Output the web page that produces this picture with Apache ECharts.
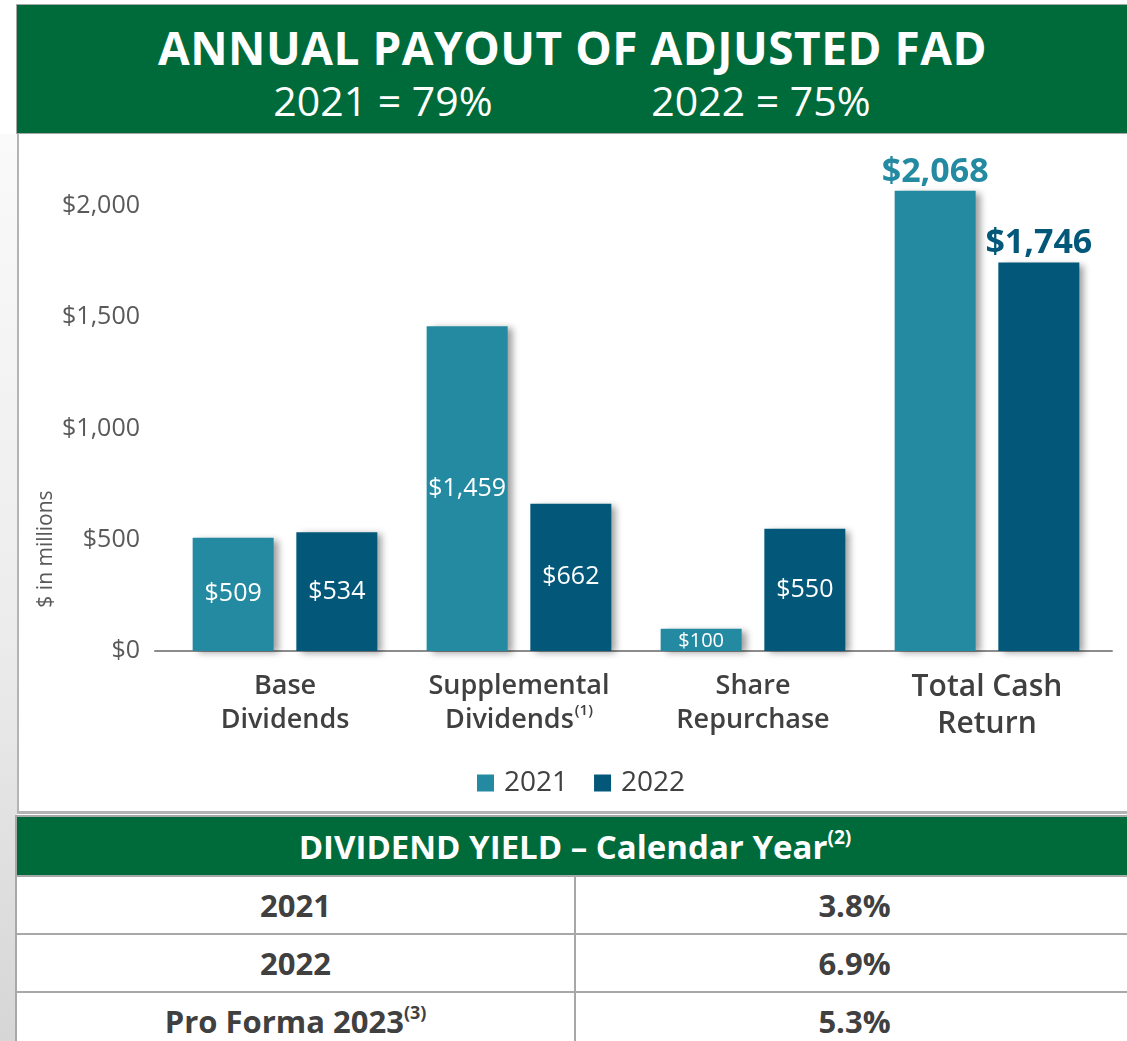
<!DOCTYPE html>
<html>
<head>
<meta charset="utf-8">
<script src="https://cdn.jsdelivr.net/npm/echarts@6/dist/echarts.min.js"></script>
<style>
  html, body { margin: 0; padding: 0; background: #ffffff; }
  body { width: 1127px; height: 1041px; position: relative; overflow: hidden; font-family: "Open Sans", "Noto Sans", sans-serif; }
  #strip { position: absolute; left: 0; top: 134px; width: 17px; height: 907px;
           background: linear-gradient(to bottom, #fafafa 0%, #ececec 55%, #d6d6d6 100%); }
  #panel { position: absolute; left: 17px; top: 133px; width: 1120px; height: 678px;
           background: #fff; border-left: 2px solid #b4b4b4; border-bottom: 3px solid #b4b4b4; }
  #header { position: absolute; left: 16px; top: 4px; width: 1120px; height: 128px;
            background: #006b3a; border: 1px solid #a8a8a8; color: #fff; z-index: 3; }
  #title { position: absolute; left: 0; right: 9px; top: 13px; text-align: center;
           font-size: 46px; font-weight: 700; line-height: 58px; letter-spacing: 0.5px; }
  .ratio { position: absolute; top: 69px; font-size: 41px; font-weight: 400; line-height: 52px; white-space: nowrap; transform: translateX(-50%); }
  #chart { position: absolute; left: 0; top: 0; width: 1127px; height: 1041px; z-index: 2; }
  #yieldTable { position: absolute; left: 15px; top: 815px; width: 1120px; border-collapse: collapse; z-index: 3; background: #fff; }
  #yieldTable th { background: #006b3a; color: #fff; height: 58px; padding: 0; font-size: 33px; font-weight: 700;
                   border: 2px solid #a8a8a8; text-align: center; }
  #yieldTable td { height: 56px; padding: 0; font-size: 31px; font-weight: 700; color: #404040; text-align: center;
                   border: 2px solid #a8a8a8; }
  #yieldTable td.lbl { width: 557px; }
  sup { font-size: 58%; line-height: 0; vertical-align: 0.8em; }
</style>
</head>
<body>
<div id="strip"></div>
<div id="panel"></div>
<div id="header">
  <div id="title">ANNUAL PAYOUT OF ADJUSTED FAD</div>
</div>
<div id="chart"></div>
<table id="yieldTable"></table>
<script>
// Payout of adjusted FAD, by year (%)
const payoutYears = ['2021', '2022'];
const payoutRatios = [79, 75];

// Cash returned to shareholders ($ in millions)
const categories = ['Base\nDividends', 'Supplemental\nDividends', 'Share\nRepurchase', 'Total Cash\nReturn'];
const categoryNotes = ['', '(1)', '', ''];
const seriesNames = ['2021', '2022'];
const values2021 = [509, 1459, 100, 2068];
const values2022 = [534, 662, 550, 1746];

// Value axis
const axisMin = 0;
const axisMax = 2200;
const axisInterval = 500;
const axisTitle = '$ in millions';

// Dividend yield table
const yieldTitle = 'DIVIDEND YIELD – Calendar Year';
const yieldTitleNote = '(2)';
const yieldLabels = ['2021', '2022', 'Pro Forma 2023'];
const yieldNotes = ['', '', '(3)'];
const yieldValues = [3.8, 6.9, 5.3];

const COLORS = ['#248aa1', '#03587a'];
const TEXT = '#404040';
const AXIS_TEXT = '#595959';
const FONT = '"Open Sans", "Noto Sans", sans-serif';

// header ratios
const header = document.getElementById('header');
const ratioCenters = [366, 744];
payoutYears.forEach((y, i) => {
  const d = document.createElement('div');
  d.className = 'ratio';
  d.style.left = ratioCenters[i] + 'px';
  d.textContent = y + ' = ' + payoutRatios[i] + '%';
  header.appendChild(d);
});

// yield table
const table = document.getElementById('yieldTable');
let html = '<tr><th colspan="2">' + yieldTitle + '<sup>' + yieldTitleNote + '</sup></th></tr>';
yieldLabels.forEach((l, i) => {
  html += '<tr><td class="lbl">' + l + (yieldNotes[i] ? '<sup>' + yieldNotes[i] + '</sup>' : '') +
          '</td><td>' + yieldValues[i].toFixed(1) + '%</td></tr>';
});
table.innerHTML = html;

const fmt = v => '$' + v.toLocaleString('en-US');
const lastIdx = categories.length - 1;

function barData(values, seriesIdx) {
  return values.map((v, i) => {
    if (i === lastIdx) {
      return { value: v, label: { position: 'top', distance: 2, color: COLORS[seriesIdx], fontSize: 34, fontWeight: 700 } };
    }
    if (v < 200) {
      return { value: v, label: { position: 'inside', fontSize: 20, offset: [0, 1] } };
    }
    return v;
  });
}

const barStyle = color => ({
  color: color,
  shadowColor: 'rgba(0,0,0,0.38)',
  shadowBlur: 7,
  shadowOffsetX: 5,
  shadowOffsetY: 2
});

const chart = echarts.init(document.getElementById('chart'), null, { renderer: 'canvas' });
chart.setOption({
  animation: false,
  textStyle: { fontFamily: FONT },
  grid: [
    { left: 168, right: 23, top: 161.5, bottom: 390, containLabel: false },
    // wider grid that carries the baseline rule under the bars
    { left: 155, right: 15, top: 161.5, bottom: 390, containLabel: false }
  ],
  legend: {
    data: seriesNames,
    left: 472, top: 764,
    icon: 'rect', itemWidth: 17, itemHeight: 17, itemGap: 26,
    itemStyle: { shadowBlur: 0, shadowOffsetX: 0, shadowOffsetY: 0 },
    textStyle: { fontSize: 28, color: TEXT, fontFamily: FONT, padding: [0, 0, 0, 5] }
  },
  xAxis: [
    {
      type: 'category',
      gridIndex: 0,
      data: categories,
      axisLine: { show: false },
      axisTick: { show: false },
      axisLabel: {
        interval: 0,
        margin: 18,
        formatter: (val, idx) => {
          const key = idx === lastIdx ? 'big' : 'c';
          const lines = val.split('\n');
          return lines.map((ln, j) => {
            let s = '{' + key + '|' + ln + '}';
            if (j === lines.length - 1 && categoryNotes[idx]) s += '{sup|' + categoryNotes[idx] + '}';
            return s;
          }).join('\n');
        },
        rich: {
          c: { fontSize: 27, fontWeight: 600, color: TEXT, lineHeight: 34, fontFamily: FONT },
          big: { fontSize: 30, fontWeight: 600, color: TEXT, lineHeight: 37, fontFamily: FONT },
          sup: { fontSize: 15, fontWeight: 600, color: TEXT, verticalAlign: 'top', lineHeight: 34, padding: [0, 0, 10, 1], fontFamily: FONT }
        }
      }
    },
    {
      type: 'value',
      gridIndex: 1,
      min: 0, max: 1,
      axisLine: { show: true, lineStyle: { color: '#8c8c8c', width: 2 } },
      axisTick: { show: false },
      axisLabel: { show: false },
      splitLine: { show: false }
    }
  ],
  yAxis: [
    {
      type: 'value',
      gridIndex: 0,
      min: axisMin, max: axisMax, interval: axisInterval,
      splitLine: { show: false },
      axisLine: { show: false },
      axisTick: { show: false },
      axisLabel: {
        showMaxLabel: false,
        margin: 28,
        fontSize: 25, color: AXIS_TEXT, fontFamily: FONT,
        formatter: v => fmt(v)
      }
    },
    {
      type: 'value',
      gridIndex: 1,
      min: 0, max: 1,
      show: false
    }
  ],
  graphic: [
    {
      type: 'text',
      x: 46, y: 549,
      rotation: Math.PI / 2,
      style: { text: axisTitle, fontSize: 21, fill: AXIS_TEXT, fontFamily: FONT, align: 'center', verticalAlign: 'middle' }
    }
  ],
  series: [
    {
      name: seriesNames[0], type: 'bar',
      xAxisIndex: 0, yAxisIndex: 0,
      data: barData(values2021, 0),
      barWidth: 81, barGap: '28%',
      itemStyle: barStyle(COLORS[0]),
      label: { show: true, position: 'inside', color: '#fff', fontSize: 25, fontFamily: FONT, formatter: p => fmt(p.value) },
      z: 3
    },
    {
      name: seriesNames[1], type: 'bar',
      xAxisIndex: 0, yAxisIndex: 0,
      data: barData(values2022, 1),
      barWidth: 81,
      itemStyle: barStyle(COLORS[1]),
      label: { show: true, position: 'inside', color: '#fff', fontSize: 25, fontFamily: FONT, formatter: p => fmt(p.value) },
      z: 3
    }
  ]
});
</script>
</body>
</html>
